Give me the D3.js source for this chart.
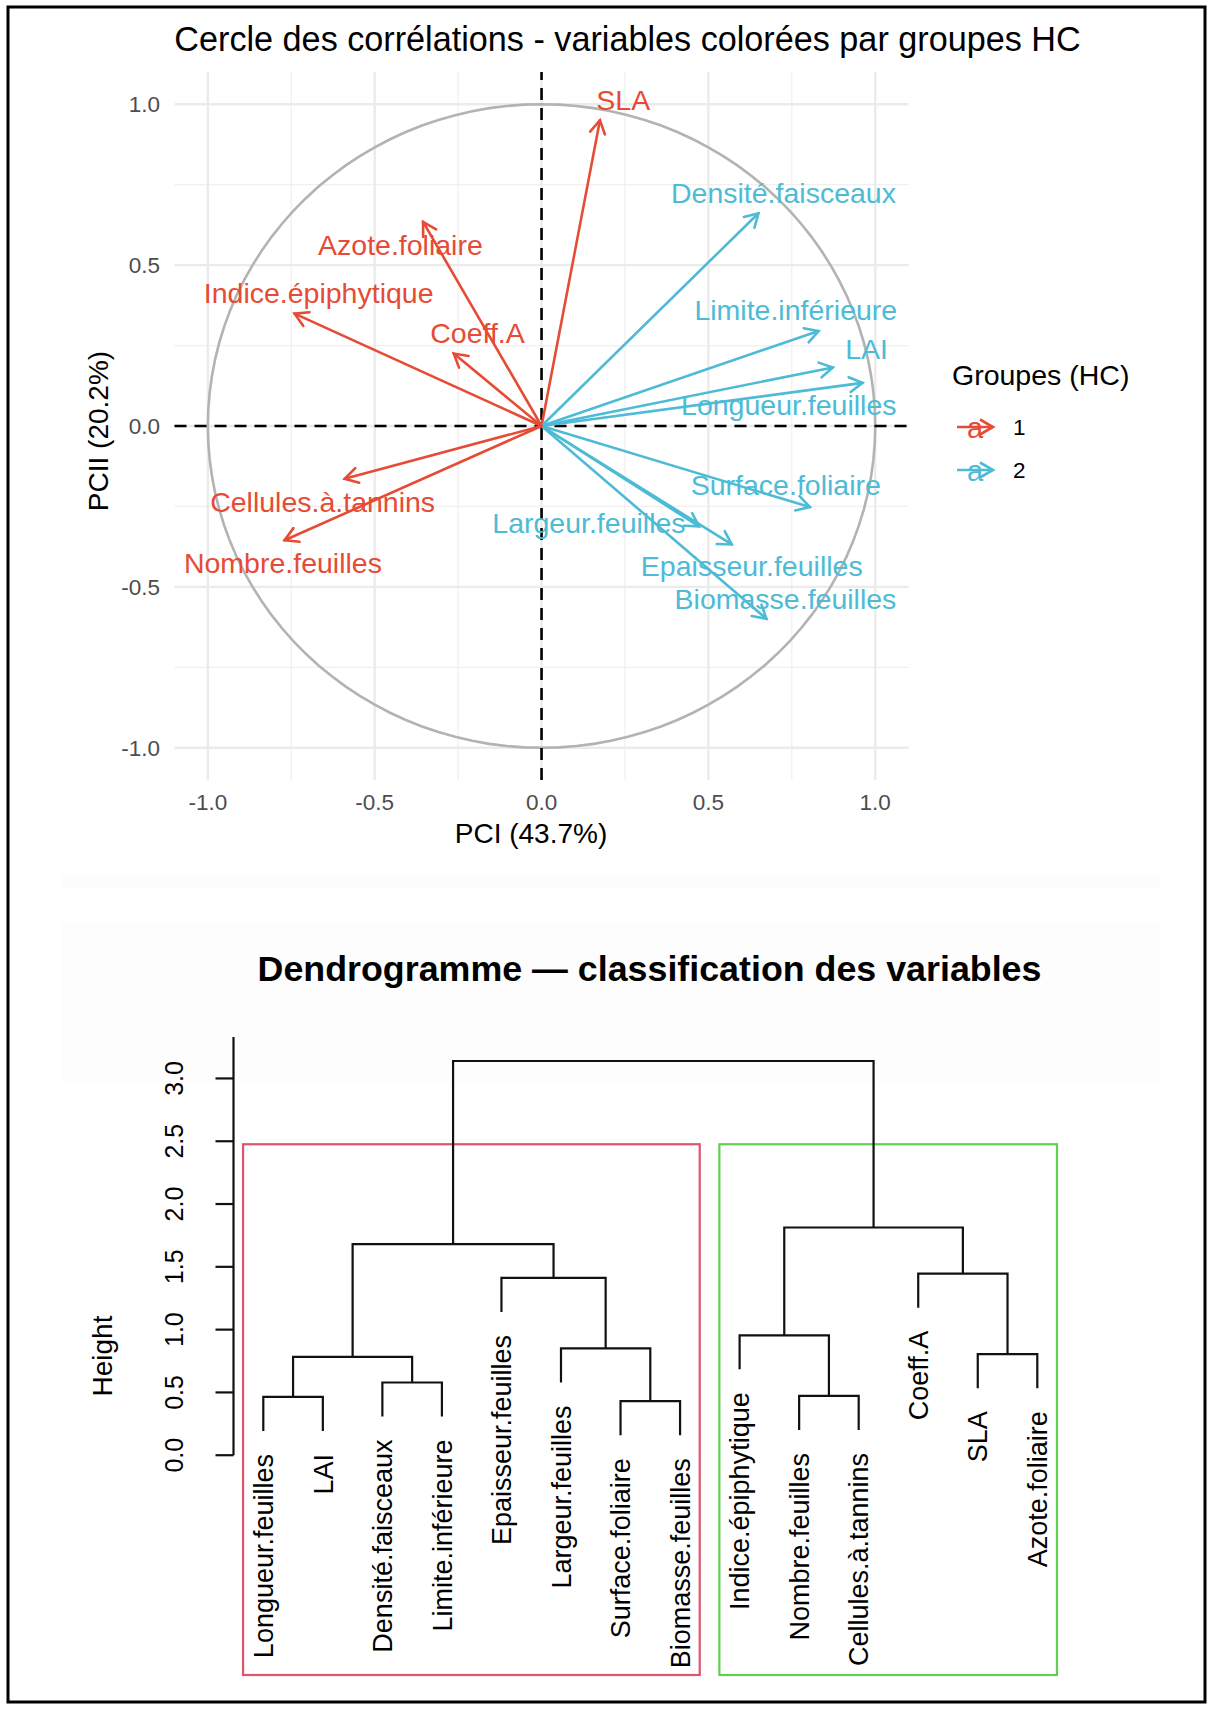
<!DOCTYPE html>
<html>
<head>
<meta charset="utf-8">
<script src="https://cdn.jsdelivr.net/npm/d3@7"></script>
<style>
  body { margin: 0; background: #fff; }
  svg { display: block; font-family: "Liberation Sans", Arial, Helvetica, sans-serif; }
</style>
</head>
<body>
<svg id="fig" width="1213" height="1711"></svg>
<script>
// cercle des correlations (PCA)
const variables = ["SLA", "Densité.faisceaux", "Limite.inférieure", "LAI", "Longueur.feuilles",
    "Surface.foliaire", "Largeur.feuilles", "Epaisseur.feuilles", "Biomasse.feuilles",
    "Azote.foliaire", "Indice.épiphytique", "Coeff.A", "Cellules.à.tannins", "Nombre.feuilles"];
const pc1 = [0.175, 0.650, 0.830, 0.873, 0.962, 0.804, 0.472, 0.570, 0.674, -0.355, -0.740, -0.263, -0.590, -0.770];
const pc2 = [0.950, 0.661, 0.295, 0.182, 0.134, -0.252, -0.312, -0.368, -0.599, 0.634, 0.349, 0.225, -0.164, -0.355];
const groupe = ["1", "2", "2", "2", "2", "2", "2", "2", "2", "1", "1", "1", "1", "1"];
// where the repelled labels ended up (data units)
const labelPc1 = [0.245, 0.725, 0.762, 0.974, 0.741, 0.732, 0.142, 0.630, 0.731, -0.423, -0.668, -0.192, -0.656, -0.775];
const labelPc2 = [1.012, 0.724, 0.360, 0.238, 0.064, -0.184, -0.302, -0.434, -0.539, 0.562, 0.412, 0.288, -0.236, -0.426];
const groupes = ["1", "2"];
const majorTicks = [-1, -0.5, 0, 0.5, 1];
const minorTicks = [-0.75, -0.25, 0.25, 0.75];

// dendrogramme (hclust, same coding as R's $merge)
const leaves = ["Longueur.feuilles", "LAI", "Densité.faisceaux", "Limite.inférieure", "Epaisseur.feuilles",
    "Largeur.feuilles", "Surface.foliaire", "Biomasse.feuilles", "Indice.épiphytique", "Nombre.feuilles",
    "Cellules.à.tannins", "Coeff.A", "SLA", "Azote.foliaire"];
const mergeA = [-7, -1, -10, -3, 2, -13, -6, -9, -5, -12, 5, 8, 11];
const mergeB = [-8, -2, -11, -4, 4, -14, 1, 3, 7, 6, 9, 10, 12];
const heights = [0.430, 0.464, 0.472, 0.579, 0.783, 0.805, 0.850, 0.955, 1.412, 1.446, 1.680, 1.813, 3.139];
const heightTicks = [0, 0.5, 1, 1.5, 2, 2.5, 3];

const svg = d3.select("#fig");
svg.append("rect").attr("width", 1213).attr("height", 1711).attr("fill", "#fff");

// very faint backgrounds of the two pasted images
svg.append("rect").attr("x", 62).attr("y", 876).attr("width", 1098).attr("height", 12).attr("fill", "#fcfcfc");
svg.append("rect").attr("x", 62).attr("y", 922).attr("width", 1098).attr("height", 160).attr("fill", "#fdfdfd");

// ---------- correlation circle ----------
const x = d3.scaleLinear().domain([-1.1, 1.1]).range([174.5, 908.6]);
const y = d3.scaleLinear().domain([-1.1, 1.1]).range([780, 72]);
const color = d3.scaleOrdinal().domain(groupes).range(["#E64B35", "#4DBBD5"]);

const pca = svg.append("g");

pca.append("g").selectAll("line")
    .data(minorTicks)
    .join("line")
    .attr("x1", d => x(d)).attr("x2", d => x(d))
    .attr("y1", y(-1.1)).attr("y2", y(1.1))
    .attr("stroke", "#f0f0f0").attr("stroke-width", 1.3)
pca.append("g").selectAll("line")
    .data(minorTicks)
    .join("line")
    .attr("y1", d => y(d)).attr("y2", d => y(d))
    .attr("x1", x(-1.1)).attr("x2", x(1.1))
    .attr("stroke", "#f0f0f0").attr("stroke-width", 1.3)
pca.append("g").selectAll("line")
    .data(majorTicks)
    .join("line")
    .attr("x1", d => x(d)).attr("x2", d => x(d))
    .attr("y1", y(-1.1)).attr("y2", y(1.1))
    .attr("stroke", "#ebebeb").attr("stroke-width", 2.4)
pca.append("g").selectAll("line")
    .data(majorTicks)
    .join("line")
    .attr("y1", d => y(d)).attr("y2", d => y(d))
    .attr("x1", x(-1.1)).attr("x2", x(1.1))
    .attr("stroke", "#ebebeb").attr("stroke-width", 2.4)

// unit circle
const circle = d3.line()
    .x(a => x(Math.cos(a * Math.PI / 180)))
    .y(a => y(Math.sin(a * Math.PI / 180)))
pca.append("path")
    .attr("d", circle(d3.range(0, 361, 3)))
    .attr("fill", "none").attr("stroke", "#b3b3b3").attr("stroke-width", 2.6)

// dashed axes through the origin
pca.append("line")
    .attr("x1", x(0)).attr("x2", x(0)).attr("y1", y(-1.1)).attr("y2", y(1.1))
    .attr("stroke", "#000").attr("stroke-width", 2.6).attr("stroke-dasharray", "12,8")
pca.append("line")
    .attr("y1", y(0)).attr("y2", y(0)).attr("x1", x(-1.1)).attr("x2", x(1.1))
    .attr("stroke", "#000").attr("stroke-width", 2.6).attr("stroke-dasharray", "12,8")

function arrowHead(x0, y0, x1, y1, len) {
    const a = Math.atan2(y1 - y0, x1 - x0);
    const w = Math.PI / 6;
    return "M" + (x1 - len * Math.cos(a - w)) + "," + (y1 - len * Math.sin(a - w)) +
        "L" + x1 + "," + y1 +
        "L" + (x1 - len * Math.cos(a + w)) + "," + (y1 - len * Math.sin(a + w));
}

const arrows = pca.append("g").selectAll("g")
    .data(variables)
    .join("g")
    .attr("stroke", (d, i) => color(groupe[i]))
    .attr("stroke-width", 2.6)
    .attr("fill", "none")
    .attr("stroke-linecap", "round")

arrows.append("line")
    .attr("x1", x(0)).attr("y1", y(0))
    .attr("x2", (d, i) => x(pc1[i])).attr("y2", (d, i) => y(pc2[i]))
arrows.append("path")
    .attr("d", (d, i) => arrowHead(x(0), y(0), x(pc1[i]), y(pc2[i]), 15))

pca.append("g").selectAll("text")
    .data(variables)
    .join("text")
    .attr("x", (d, i) => x(labelPc1[i]))
    .attr("y", (d, i) => y(labelPc2[i]))
    .attr("dy", "0.35em")
    .attr("text-anchor", "middle")
    .attr("font-size", 28.5)
    .attr("fill", (d, i) => color(groupe[i]))
    .text(d => d)

// tick labels
pca.append("g").selectAll("text")
    .data(majorTicks)
    .join("text")
    .attr("x", d => x(d)).attr("y", y(-1.1) + 30)
    .attr("text-anchor", "middle").attr("font-size", 22.5).attr("fill", "#4d4d4d")
    .text(d => d.toFixed(1))
pca.append("g").selectAll("text")
    .data(majorTicks)
    .join("text")
    .attr("x", x(-1.1) - 14.5).attr("y", d => y(d))
    .attr("dy", "0.35em")
    .attr("text-anchor", "end").attr("font-size", 22.5).attr("fill", "#4d4d4d")
    .text(d => d.toFixed(1))

pca.append("text")
    .attr("x", 531).attr("y", 843)
    .attr("text-anchor", "middle").attr("font-size", 28)
    .text("PCI (43.7%)")
pca.append("text")
    .attr("transform", "translate(108,431) rotate(-90)")
    .attr("text-anchor", "middle").attr("font-size", 28)
    .text("PCII (20.2%)")
pca.append("text")
    .attr("x", 627.5).attr("y", 51)
    .attr("text-anchor", "middle").attr("font-size", 34.2)
    .text("Cercle des corrélations - variables colorées par groupes HC")

// legend
const legend = pca.append("g").attr("transform", "translate(952,0)");
legend.append("text")
    .attr("x", 0).attr("y", 385).attr("font-size", 28.5)
    .text("Groupes (HC)")
const keys = legend.selectAll("g.key")
    .data(groupes)
    .join("g")
    .attr("class", "key")
    .attr("transform", (d, i) => "translate(0," + (427 + i * 43) + ")")
keys.append("line")
    .attr("x1", 5).attr("x2", 41).attr("y1", 0).attr("y2", 0)
    .attr("stroke", d => color(d)).attr("stroke-width", 2.6)
keys.append("path")
    .attr("d", arrowHead(5, 0, 41, 0, 15))
    .attr("fill", "none").attr("stroke", d => color(d)).attr("stroke-width", 2.6)
keys.append("text")
    .attr("x", 23).attr("y", 1).attr("dominant-baseline", "central")
    .attr("text-anchor", "middle").attr("font-size", 29)
    .attr("fill", d => color(d))
    .text("a")
keys.append("text")
    .attr("x", 61).attr("y", 8).attr("font-size", 22.5)
    .text(d => d)

// ---------- dendrogram ----------
const xd = d3.scalePoint().domain(leaves).range([263.3, 1037.3]);
const yd = d3.scaleLinear().domain([-1.75, 3.33]).range([1675, 1037]);
const hang = 0.1 * (d3.max(heights) - d3.min(heights));

const nodes = [];
const leafEnd = {};
function childPos(ref, parentH) {
    if (ref < 0) {
        const name = leaves[-ref - 1];
        leafEnd[name] = parentH - hang;
        return { x: xd(name), top: parentH - hang };
    }
    return { x: nodes[ref - 1].x, top: nodes[ref - 1].h };
}
heights.forEach((h, i) => {
    const a = childPos(mergeA[i], h);
    const b = childPos(mergeB[i], h);
    nodes.push({ x: (a.x + b.x) / 2, h: h, a: a, b: b });
})

function leafSet(ref) {
    if (ref < 0) return [-ref - 1];
    return leafSet(mergeA[ref - 1]).concat(leafSet(mergeB[ref - 1]));
}

const dendro = svg.append("g");

// rect.hclust(k = 2)
const last = heights.length - 1;
const sorted = heights.slice().sort((p, q) => q - p);
const boxTop = (sorted[0] + sorted[1]) / 2;
const step = xd.step();
dendro.append("g").selectAll("rect")
    .data([leafSet(mergeA[last]), leafSet(mergeB[last])])
    .join("rect")
    .attr("x", d => xd(leaves[d3.min(d)]) - 0.34 * step)
    .attr("width", d => xd(leaves[d3.max(d)]) - xd(leaves[d3.min(d)]) + 0.67 * step)
    .attr("y", yd(boxTop))
    .attr("height", yd(-1.75) - yd(boxTop))
    .attr("fill", "none")
    .attr("stroke", (d, i) => ["#DF536B", "#61D04F"][i])
    .attr("stroke-width", 2.2)

dendro.append("g").selectAll("path")
    .data(nodes)
    .join("path")
    .attr("d", n => "M" + n.a.x + "," + yd(n.a.top) + "V" + yd(n.h) + "H" + n.b.x + "V" + yd(n.b.top))
    .attr("fill", "none").attr("stroke", "#111").attr("stroke-width", 2.2)

dendro.append("g").selectAll("text")
    .data(leaves)
    .join("text")
    .attr("transform", d => "translate(" + xd(d) + "," + (yd(leafEnd[d]) + 23) + ") rotate(-90)")
    .attr("dy", "0.36em")
    .attr("text-anchor", "end")
    .attr("font-size", 27)
    .text(d => d)

// y axis
const axisX = 233.5;
dendro.append("line")
    .attr("x1", axisX).attr("x2", axisX).attr("y1", yd(0)).attr("y2", yd(3.33))
    .attr("stroke", "#111").attr("stroke-width", 2.2)
dendro.append("g").selectAll("line")
    .data(heightTicks)
    .join("line")
    .attr("x1", axisX - 18).attr("x2", axisX)
    .attr("y1", d => yd(d)).attr("y2", d => yd(d))
    .attr("stroke", "#111").attr("stroke-width", 2.2)
dendro.append("g").selectAll("text")
    .data(heightTicks)
    .join("text")
    .attr("transform", d => "translate(183," + yd(d) + ") rotate(-90)")
    .attr("text-anchor", "middle").attr("font-size", 25)
    .text(d => d.toFixed(1))

dendro.append("text")
    .attr("transform", "translate(112," + (yd(-1.75) + yd(3.33)) / 2 + ") rotate(-90)")
    .attr("text-anchor", "middle").attr("font-size", 28)
    .text("Height")

dendro.append("text")
    .attr("x", 649.5).attr("y", 981)
    .attr("text-anchor", "middle").attr("font-size", 35.8).attr("font-weight", "bold")
    .text("Dendrogramme — classification des variables")

// outer frame
svg.append("rect")
    .attr("x", 8).attr("y", 7).attr("width", 1197).attr("height", 1695)
    .attr("fill", "none").attr("stroke", "#000").attr("stroke-width", 3)
</script>
</body>
</html>
